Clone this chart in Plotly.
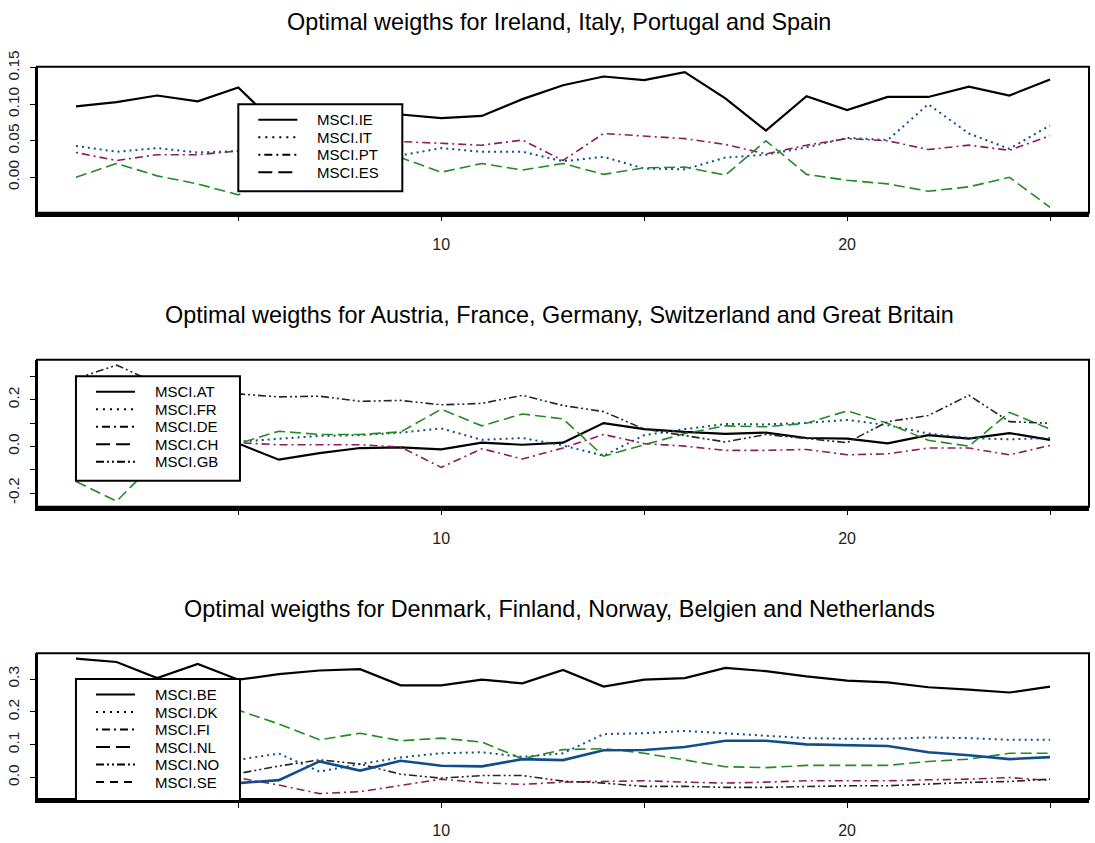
import plotly.graph_objects as go

# ---------------- data ----------------
periods = list(range(1, 26))

# Panel 1
names_1 = ["MSCI.IE", "MSCI.IT", "MSCI.PT", "MSCI.ES"]
msci_ie = [0.097, 0.103, 0.112, 0.104, 0.123, 0.069, 0.080, 0.087, 0.086, 0.081, 0.084, 0.107, 0.126,
           0.138, 0.133, 0.144, 0.108, 0.064, 0.111, 0.092, 0.110, 0.110, 0.124, 0.112, 0.134]
msci_it = [0.043, 0.035, 0.040, 0.034, 0.036, 0.035, 0.030, 0.028, 0.030, 0.040, 0.035, 0.035, 0.022,
           0.028, 0.012, 0.011, 0.027, 0.031, 0.041, 0.054, 0.051, 0.100, 0.060, 0.039, 0.071]
msci_pt = [0.034, 0.023, 0.031, 0.031, 0.036, 0.040, 0.045, 0.048, 0.049, 0.047, 0.044, 0.051, 0.023,
           0.060, 0.057, 0.053, 0.045, 0.032, 0.044, 0.053, 0.050, 0.038, 0.044, 0.037, 0.057]
msci_es = [0.000, 0.019, 0.002, -0.009, -0.024, 0.005, 0.018, 0.028, 0.027, 0.007, 0.019, 0.010, 0.019,
           0.004, 0.013, 0.014, 0.003, 0.050, 0.004, -0.004, -0.009, -0.019, -0.013, 0.000, -0.041]

# Panel 2
names_2 = ["MSCI.AT", "MSCI.FR", "MSCI.DE", "MSCI.CH", "MSCI.GB"]
msci_at = [0.030, 0.050, 0.020, 0.040, 0.012, -0.057, -0.029, -0.007, -0.004, -0.013, 0.016, 0.007, 0.016,
           0.100, 0.074, 0.062, 0.054, 0.059, 0.036, 0.033, 0.013, 0.048, 0.033, 0.057, 0.028]
msci_fr = [0.050, 0.040, 0.030, 0.020, 0.020, 0.033, 0.045, 0.048, 0.059, 0.077, 0.028, 0.036, 0.004,
           -0.040, 0.048, 0.074, 0.096, 0.094, 0.101, 0.113, 0.091, 0.055, 0.036, 0.030, 0.036]
msci_de = [0.000, 0.020, 0.010, 0.015, 0.016, 0.007, 0.007, 0.007, -0.003, -0.090, -0.010, -0.054, -0.007,
           0.051, 0.012, 0.001, -0.017, -0.017, -0.013, -0.036, -0.032, -0.007, -0.007, -0.036, 0.004]
msci_ch = [-0.150, -0.235, -0.060, 0.000, 0.012, 0.065, 0.051, 0.051, 0.062, 0.159, 0.088, 0.139, 0.118,
           -0.042, 0.007, 0.055, 0.088, 0.084, 0.099, 0.152, 0.099, 0.026, 0.001, 0.146, 0.074]
msci_gb = [0.290, 0.348, 0.270, 0.240, 0.225, 0.212, 0.215, 0.193, 0.197, 0.178, 0.184, 0.219, 0.175,
           0.149, 0.074, 0.048, 0.019, 0.051, 0.033, 0.016, 0.106, 0.132, 0.219, 0.106, 0.099]

# Panel 3
names_3 = ["MSCI.BE", "MSCI.DK", "MSCI.FI", "MSCI.NL", "MSCI.NO", "MSCI.SE"]
msci_be = [0.362, 0.352, 0.303, 0.346, 0.298, 0.315, 0.326, 0.330, 0.281, 0.281, 0.298, 0.287, 0.328,
           0.277, 0.298, 0.303, 0.334, 0.324, 0.308, 0.295, 0.290, 0.275, 0.268, 0.259, 0.277]
msci_dk = [0.050, 0.060, 0.045, 0.050, 0.054, 0.073, 0.018, 0.041, 0.061, 0.074, 0.077, 0.063, 0.074,
           0.132, 0.135, 0.142, 0.135, 0.128, 0.120, 0.118, 0.118, 0.122, 0.120, 0.115, 0.115]
msci_fi = [0.020, 0.010, 0.000, 0.005, -0.001, -0.023, -0.049, -0.043, -0.023, -0.005, -0.016, -0.021, -0.014,
           -0.012, -0.010, -0.014, -0.017, -0.014, -0.010, -0.010, -0.010, -0.007, -0.005, 0.000, -0.009]
msci_nl = [0.240, 0.230, 0.250, 0.220, 0.205, 0.163, 0.115, 0.135, 0.112, 0.120, 0.108, 0.057, 0.085,
           0.088, 0.074, 0.053, 0.033, 0.030, 0.037, 0.037, 0.037, 0.049, 0.056, 0.074, 0.074]
msci_no = [0.000, 0.010, 0.000, 0.005, 0.012, 0.035, 0.054, 0.041, 0.010, -0.002, 0.006, 0.006, -0.011,
           -0.017, -0.027, -0.027, -0.030, -0.030, -0.027, -0.025, -0.025, -0.019, -0.015, -0.012, -0.005]
msci_se = [-0.010, 0.000, -0.020, -0.010, -0.017, -0.008, 0.049, 0.021, 0.051, 0.036, 0.034, 0.056, 0.053,
           0.083, 0.084, 0.093, 0.112, 0.112, 0.101, 0.098, 0.096, 0.077, 0.068, 0.056, 0.062]

titles = [
    "Optimal weigths for Ireland, Italy, Portugal and Spain",
    "Optimal weigths for Austria, France, Germany, Switzerland and Great Britain",
    "Optimal weigths for Denmark, Finland, Norway, Belgien and Netherlands",
]
x_tick_vals = [5, 10, 15, 20, 25]
x_tick_text = ["", "10", "", "20", ""]
y_tick_vals_1 = [0.0, 0.05, 0.10, 0.15]
y_tick_text_1 = ["0.00", "0.05", "0.10", "0.15"]
y_tick_vals_2 = [-0.2, -0.1, 0.0, 0.1, 0.2, 0.3]
y_tick_text_2 = ["-0.2", "", "0.0", "", "0.2", ""]
y_tick_vals_3 = [0.0, 0.1, 0.2, 0.3]
y_tick_text_3 = ["0.0", "0.1", "0.2", "0.3"]
legend_anchor_1 = (5, 0.1)
legend_anchor_2 = (1, 0.3)
legend_anchor_3 = (1, 0.3)

# ---------------- styling ----------------
W, H = 1095, 843
ML, MR = 37, 6
PW = W - ML - MR
FONT = "Liberation Sans, Arial, Helvetica, sans-serif"
BLUE = "#104E8B"
MAROON = "#8B1F55"
GREEN = "#228B22"
DARK = "#262626"

line_styles = [
    dict(color="black", width=2.2, dash="solid"),
    dict(color=BLUE, width=2, dash="2px,4px"),
    dict(color=MAROON, width=1.6, dash="2px,4px,8px,4px"),
    dict(color=GREEN, width=1.6, dash="11px,5px"),
    dict(color=DARK, width=1.6, dash="8px,3px,2px,3px,2px,3px"),
    dict(color=BLUE, width=2.6, dash="solid"),
]
legend_dashes = ["solid", "2px,5px", "2px,4px,8px,4px", "14px,6px", "8px,3px,2px,3px,2px,3px", "8px,6px"]

panels = [
    dict(title=titles[0], names=names_1, series=[msci_ie, msci_it, msci_pt, msci_es],
         box=(66.7, 212.7), yt=(y_tick_vals_1, y_tick_text_1), leg=legend_anchor_1),
    dict(title=titles[1], names=names_2, series=[msci_at, msci_fr, msci_de, msci_ch, msci_gb],
         box=(359.7, 506.7), yt=(y_tick_vals_2, y_tick_text_2), leg=legend_anchor_2),
    dict(title=titles[2], names=names_3, series=[msci_be, msci_dk, msci_fi, msci_nl, msci_no, msci_se],
         box=(653.3, 799.0), yt=(y_tick_vals_3, y_tick_text_3), leg=legend_anchor_3),
]


def r_range(vals):
    lo, hi = min(vals), max(vals)
    pad = 0.04 * (hi - lo)
    return [lo - pad, hi + pad]


fig = go.Figure()
shapes = []
annotations = []
xr = r_range(periods)

for i, p in enumerate(panels):
    k = "" if i == 0 else str(i + 1)
    xa, ya = "x" + k, "y" + k
    allv = [v for s in p["series"] for v in s]
    yr = r_range(allv)
    top, bot = p["box"]
    dom = [1 - bot / H, 1 - top / H]

    for j, (nm, s) in enumerate(zip(p["names"], p["series"])):
        st = line_styles[j]
        fig.add_trace(go.Scatter(x=periods, y=s, mode="lines", name=nm, showlegend=False,
                                 line=dict(color=st["color"], width=st["width"], dash=st["dash"]),
                                 xaxis=xa, yaxis=ya, hoverinfo="skip"))

    fig.layout["xaxis" + k] = dict(
        domain=[0, 1], range=xr, anchor=ya, tickvals=x_tick_vals, ticktext=x_tick_text,
        ticks="outside", ticklen=5, tickwidth=1, tickcolor="black",
        showline=True, linewidth=3.5, linecolor="black", showgrid=False, zeroline=False,
        tickfont=dict(family=FONT, size=16, color="#222"), ticklabelstandoff=9)
    fig.layout["yaxis" + k] = dict(
        domain=dom, range=yr, anchor=xa, tickvals=p["yt"][0], ticktext=p["yt"][1],
        ticks="outside", ticklen=5, tickwidth=1, tickcolor="black", tickangle=-90,
        showline=True, linewidth=2, linecolor="black", showgrid=False, zeroline=False,
        tickfont=dict(family=FONT, size=15.5, color="#222"), ticklabelstandoff=5)

    # plot box
    shapes.append(dict(type="rect", xref=xa + " domain", yref=ya + " domain", x0=0, x1=1, y0=0, y1=1,
                       line=dict(color="black", width=2), layer="above"))

    # title
    annotations.append(dict(text=p["title"], xref="paper", yref="paper",
                            x=(559 - ML) / PW, y=1 - (top - 44.7) / H, xanchor="center", yanchor="middle",
                            showarrow=False, font=dict(family=FONT, size=23.4, color="black")))

    # legend box (R-style, anchored at data coordinates)
    lx, ly = p["leg"]
    lx_p = (lx - xr[0]) / (xr[1] - xr[0])
    ly_p = dom[0] + (ly - yr[0]) / (yr[1] - yr[0]) * (dom[1] - dom[0])
    n = len(p["names"])
    w_px, h_px = 164, 17.5 * n + 17
    shapes.append(dict(type="rect", xref="paper", yref="paper",
                       x0=lx_p, x1=lx_p + w_px / PW, y0=ly_p - h_px / H, y1=ly_p,
                       fillcolor="white", line=dict(color="black", width=2), layer="above"))
    for j, nm in enumerate(p["names"]):
        yc = ly_p - (15.5 + 17.5 * j) / H
        shapes.append(dict(type="line", xref="paper", yref="paper",
                           x0=lx_p + 20 / PW, x1=lx_p + 59 / PW, y0=yc, y1=yc,
                           line=dict(color="black", width=2, dash=legend_dashes[j]), layer="above"))
        annotations.append(dict(text=nm, xref="paper", yref="paper", x=lx_p + 77 / PW, y=yc,
                                xanchor="left", yanchor="middle", showarrow=False,
                                font=dict(family=FONT, size=15, color="black")))

fig.update_layout(
    width=W, height=H, margin=dict(l=ML, r=MR, t=0, b=0, autoexpand=False),
    paper_bgcolor="white", plot_bgcolor="white", showlegend=False,
    shapes=shapes, annotations=annotations, font=dict(family=FONT),
)

fig.write_html("out.html", config={"displayModeBar": False})
